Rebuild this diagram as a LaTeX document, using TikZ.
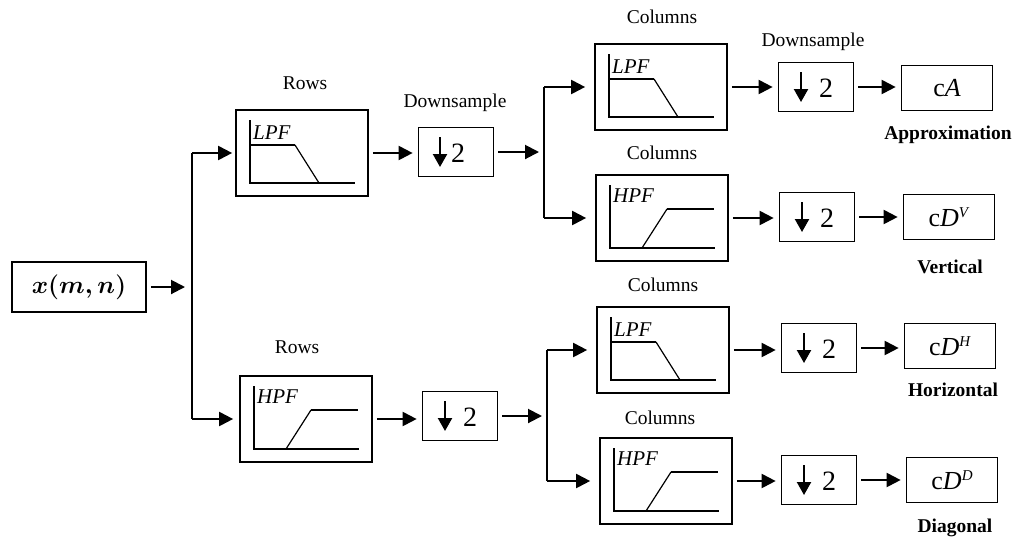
\documentclass[tikz,border=0pt]{standalone}
\usepackage{fontspec}
\setmainfont{Liberation Serif}
\usetikzlibrary{arrows.meta,calc}
\begin{document}
\begin{tikzpicture}[x=1pt,y=-1pt,
  filt/.style={draw,line width=1.7pt,minimum width=132pt,minimum height=86pt,inner sep=0pt},
  dsbox/.style={draw,line width=1.7pt,minimum width=75pt,minimum height=49pt,inner sep=0pt},
  outbox/.style={draw,line width=1.7pt,minimum width=91pt,minimum height=45pt,inner sep=0pt,
    font=\fontsize{26}{26}\selectfont},
  inbox/.style={draw,line width=1.7pt,minimum width=134pt,minimum height=50pt,inner sep=0pt,
    font=\fontsize{26}{26}\selectfont\boldmath},
  lbl/.style={font=\fontsize{19.5}{19.5}\selectfont,inner sep=0pt},
  blbl/.style={font=\bfseries\fontsize{19.5}{19.5}\selectfont,inner sep=0pt},
  flbl/.style={font=\itshape\fontsize{21}{21}\selectfont,inner sep=0pt,anchor=west},
  wire/.style={line width=2pt},
  conn/.style={line width=2pt,-{Triangle[length=14pt,width=14pt]},shorten <=4pt,shorten >=5pt},
  lpf/.pic={
    \draw[line width=1.6pt] (-52,-33) -- (-52,30) -- (53,30);
    \draw[line width=1.6pt] (-52,-8) -- (-7,-8);
    \draw[line width=1.2pt] (-7,-8) -- (17,30);
    \node[flbl] at (-49,-20) {LPF};
  },
  hpf/.pic={
    \draw[line width=1.6pt] (-52,-33) -- (-52,30) -- (53,30);
    \draw[line width=1.2pt] (-20,30) -- (5,-9);
    \draw[line width=1.6pt] (5,-9) -- (52,-9);
    \node[flbl] at (-49,-22) {HPF};
  },
  halve/.pic={
    \draw[line width=2.2pt,-{Triangle[length=13pt,width=14pt]}] (-15,-15) -- (-15,15);
    \node[font=\fontsize{28}{28}\selectfont,inner sep=0pt] at (10,1) {2};
  },
  halvetight/.pic={
    \draw[line width=2.2pt,-{Triangle[length=13pt,width=14pt]}] (-16,-15) -- (-16,15);
    \node[font=\fontsize{28}{28}\selectfont,inner sep=0pt] at (2,1) {2};
  }]
\useasboundingbox (0,0) rectangle (1027,542);

% input image
\node[inbox] (img) at (79,287) {$x(m,n)$};

% row filters
\node[filt] (r1) at (302,153) {};
\node[filt] (r2) at (306,419) {};
\pic at (r1) {lpf};
\pic at (r2) {hpf};
\node[lbl] at (305,83) {Rows};
\node[lbl] at (297,347) {Rows};

% row downsamplers
\node[dsbox] (d1) at (456,152) {};
\node[dsbox] (d4) at (460,416) {};
\pic at (d1) {halvetight};
\pic at (d4) {halve};
\node[lbl] at (455,103) {Downsample};

% column filters
\node[filt] (c1) at (661,87) {};
\node[filt] (c2) at (662,218) {};
\node[filt] (c3) at (663,350) {};
\node[filt] (c4) at (666,481) {};
\pic at (c1) {lpf};
\pic at (c2) {hpf};
\pic at (c3) {lpf};
\pic at (c4) {hpf};
\node[lbl] at (662,17) {Columns};
\node[lbl] at (662,153) {Columns};
\node[lbl] at (663,285) {Columns};
\node[lbl] at (660,418) {Columns};

% column downsamplers
\node[dsbox] (d2) at (816,87) {};
\node[dsbox] (d3) at (817,217) {};
\node[dsbox] (d5) at (819,348) {};
\node[dsbox] (d6) at (819,480) {};
\pic at (d2) {halve};
\pic at (d3) {halve};
\pic at (d5) {halve};
\pic at (d6) {halve};
\node[lbl] at (813,42) {Downsample};

% sub-band outputs
\newcommand\subband[1]{c\textit{D}\raisebox{0.75ex}{\fontsize{15}{15}\selectfont\textit{#1}}}
\node[outbox] (oA) at (947,88) {c\textit{A}};
\node[outbox] (oV) at (949,217) {\subband{V}};
\node[outbox] (oH) at (950,346) {\subband{H}};
\node[outbox] (oD) at (952,480) {\subband{D}};
\node[blbl] at (948,135) {Approximation};
\node[blbl] at (950,267) {Vertical};
\node[blbl] at (953,390) {Horizontal};
\node[blbl] at (955,528) {Diagonal};

% branch points
\coordinate (s0) at (192,287);
\coordinate (s1) at (544,152);
\coordinate (s2) at (547,416);

% input split
\draw[conn,shorten >=7pt] (img.east) -- (s0);
\draw[wire] (s0 |- r1.west) -- (s0 |- r2.west);
\draw[conn,shorten <=0pt,shorten >=3pt] (s0 |- r1.west) -- (r1.west);
\draw[conn,shorten <=0pt,shorten >=6pt] (s0 |- r2.west) -- (r2.west);

% rows -> downsample -> column split
\draw[conn] (r1.east) -- (r1.east -| d1.west);
\draw[conn] (r2.east) -- (r2.east -| d4.west);
\draw[conn] (d1.east) -- (s1);
\draw[conn] (d4.east) -- (s2);
\draw[wire] (s1 |- c1.west) -- (s1 |- c2.west);
\draw[wire] (s2 |- c3.west) -- (s2 |- c4.west);
\draw[conn,shorten <=0pt,shorten >=9pt] (s1 |- c1.west) -- (c1.west);
\draw[conn,shorten <=0pt,shorten >=9pt] (s1 |- c2.west) -- (c2.west);
\draw[conn,shorten <=0pt,shorten >=9pt] (s2 |- c3.west) -- (c3.west);
\draw[conn,shorten <=0pt,shorten >=9pt] (s2 |- c4.west) -- (c4.west);

% columns -> downsample -> outputs
\draw[conn] (c1.east) -- (c1.east -| d2.west);
\draw[conn] (c2.east) -- (c2.east -| d3.west);
\draw[conn] (c3.east) -- (c3.east -| d5.west);
\draw[conn] (c4.east) -- (c4.east -| d6.west);
\draw[conn] (d2.east) -- (d2.east -| oA.west);
\draw[conn] (d3.east) -- (d3.east -| oV.west);
\draw[conn] (d5.east) -- (d5.east -| oH.west);
\draw[conn] (d6.east) -- (d6.east -| oD.west);
\end{tikzpicture}
\end{document}
